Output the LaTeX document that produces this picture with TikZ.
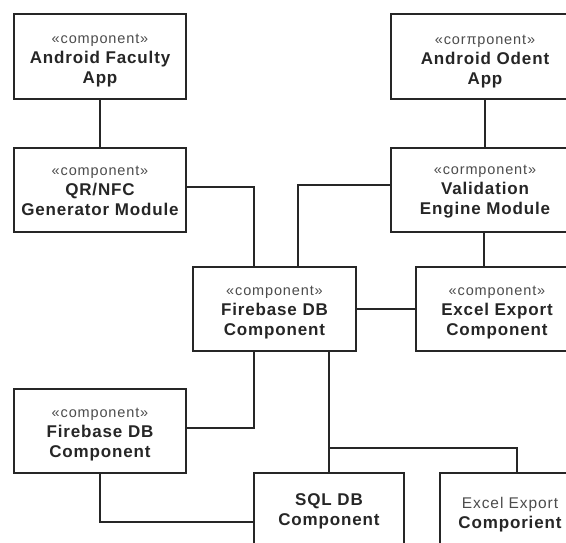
\documentclass[tikz,border=0pt]{standalone}
\usepackage{fontspec}
\setmainfont{Liberation Sans}
\newfontfamily\stfont[LetterSpace=6]{Liberation Sans}
\newfontfamily\nmfont[LetterSpace=5]{Liberation Sans}
\newcommand{\stereo}[1]{{\color{black!70}\stfont\fontsize{14.5}{20}\selectfont #1}}
\newcommand{\nm}[1]{{\nmfont\bfseries\fontsize{17}{20}\selectfont #1}}
\begin{document}
\begin{tikzpicture}[x=1pt,y=-1pt,
  comp/.style={draw=black!85, line width=1.7pt, rectangle, fill=white, inner sep=0pt},
  txt/.style={align=center, inner sep=0pt, text=black!85, font=\fontsize{17}{20}\selectfont},
  wire/.style={draw=black!85, line width=1.7pt}]
\useasboundingbox (0,0) rectangle (566,543);
\clip (0,0) rectangle (566,543);
\fill[white] (0,0) rectangle (566,543);

\node[comp, minimum width=172pt, minimum height=85pt] (A) at (100,56.5) {};
\node[comp, minimum width=172pt, minimum height=84pt] (B) at (100,190) {};
\node[comp, minimum width=188pt, minimum height=85pt] (C) at (485,56.5) {};
\node[comp, minimum width=188pt, minimum height=84pt] (D) at (485,190) {};
\node[comp, minimum width=163pt, minimum height=84pt] (E) at (274.5,309) {};
\node[comp, minimum width=162pt, minimum height=84pt] (F) at (497,309) {};
\node[comp, minimum width=172pt, minimum height=84pt] (G) at (100,431) {};
\node[comp, minimum width=150pt, minimum height=77pt] (H) at (329,511.5) {};
\node[comp, minimum width=140pt, minimum height=77pt] (I) at (510,511.5) {};

\node[txt] (At) at ([yshift=-4.5pt]A.center)
  {\stereo{«component»}\\\nm{Android Faculty}\\\nm{App}};
\node[txt] (Bt) at ([yshift=-1pt]B.center)
  {\stereo{«component»}\\\nm{QR/NFC}\\\nm{Generator Module}};
\node[txt] (Ct) at ([yshift=-5pt]C.center)
  {\stereo{«corπponent»}\\\nm{Android Odent}\\\nm{App}};
\node[txt] (Dt) at ([yshift=-2pt]D.center)
  {\stereo{«cormponent»}\\\nm{Validation}\\\nm{Engine Module}};
\node[txt] (Et) at ([yshift=-4pt]E.center)
  {\stereo{«component»}\\\nm{Firebase DB}\\\nm{Component}};
\node[txt] (Ft) at ([yshift=-4pt]F.center)
  {\stereo{«component»}\\\nm{Excel Export}\\\nm{Component}};
\node[txt] (Gt) at ([yshift=-4pt]G.center)
  {\stereo{«component»}\\\nm{Firebase DB}\\\nm{Component}};
\node[txt] (Ht) at (H.center)
  {\nm{SQL DB}\\\nm{Component}};
\node[txt] (It) at ([yshift=-3pt]I.center)
  {{\color{black!70}\stfont\fontsize{15.5}{20}\selectfont Excel Export}\\\nm{Comporient}};

\coordinate (jn) at ([yshift=24pt]H.north);

\draw[wire] (A.south) -- (B.north);
\draw[wire] (C.south) -- (D.north);
\draw[wire] ([yshift=3pt]B.east) -| ([xshift=-20.5pt]E.north);
\draw[wire] ([yshift=5pt]D.west) -| ([xshift=23.5pt]E.north);
\draw[wire] ([xshift=-1pt]D.south) -- ([xshift=-1pt]D.south |- F.north);
\draw[wire] (E.east) -- (F.west);
\draw[wire] ([xshift=-20.5pt]E.south) |- ([yshift=3pt]G.east);
\draw[wire] (G.south) |- ([yshift=-10.5pt]H.west);
\draw[wire] (H.north |- E.south) -- (H.north);
\draw[wire] (jn) -| ([xshift=7pt]I.north);
\end{tikzpicture}
\end{document}
